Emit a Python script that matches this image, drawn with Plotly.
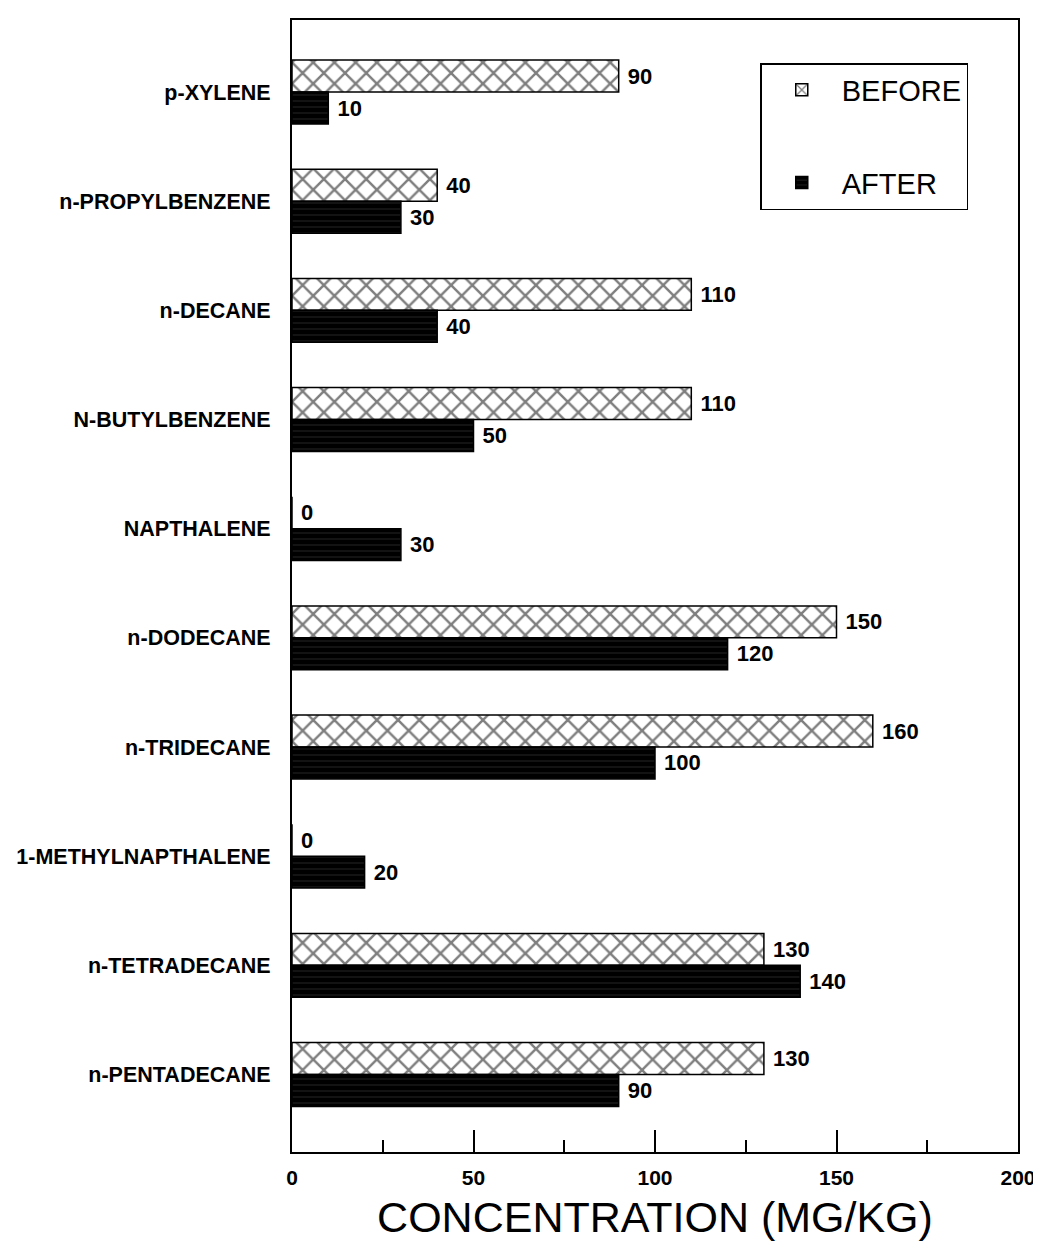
import plotly.graph_objects as go

compounds = [
    "p-XYLENE", "n-PROPYLBENZENE", "n-DECANE", "N-BUTYLBENZENE", "NAPTHALENE",
    "n-DODECANE", "n-TRIDECANE", "1-METHYLNAPTHALENE", "n-TETRADECANE", "n-PENTADECANE",
]
before = [90, 40, 110, 110, 0, 150, 160, 0, 130, 130]
after = [10, 30, 40, 50, 30, 120, 100, 20, 140, 90]
x_ticks = [0, 50, 100, 150, 200]

FONT = "Liberation Sans, Arial, sans-serif"

fig = go.Figure()
fig.add_trace(go.Bar(
    y=compounds, x=before, orientation="h", name="BEFORE", legendgroup="before",
    marker=dict(color="white", line=dict(color="black", width=1.5),
                pattern=dict(shape="x", fgcolor="black", size=15, solidity=0.3)),
    text=[f" {v}" for v in before], textposition="outside", cliponaxis=False,
    textfont=dict(family=FONT, size=22, color="black", weight="bold"),
))
fig.add_trace(go.Bar(
    y=compounds, x=after, orientation="h", name="AFTER", legendgroup="after",
    marker=dict(color="black", line=dict(color="black", width=1.5),
                pattern=dict(shape="-", fgcolor="#6a6a6a", bgcolor="black", size=6, solidity=0.12)),
    text=[f" {v}" for v in after], textposition="outside", cliponaxis=False,
    textfont=dict(family=FONT, size=22, color="black", weight="bold"),
))

fig.update_layout(
    width=1041, height=1245,
    margin=dict(l=284, r=31, t=12, b=101),
    paper_bgcolor="white", plot_bgcolor="white",
    barmode="group", bargap=0.415, bargroupgap=0,
    font=dict(family=FONT, color="black"),
    legend=dict(
        x=0.645, y=0.962, xanchor="left", yanchor="top",
        bordercolor="black", borderwidth=1.5, bgcolor="white",
        font=dict(size=29), tracegroupgap=52, itemwidth=70,
    ),
    xaxis=dict(
        range=[0, 200], tickvals=x_ticks, ticktext=[str(v) for v in x_ticks],
        ticks="inside", ticklen=22, tickwidth=1.5, tickcolor="black",
        minor=dict(dtick=25, ticks="inside", ticklen=12, tickwidth=1.5, tickcolor="black"),
        showgrid=False, zeroline=False,
        showline=True, linecolor="black", linewidth=2, mirror=True,
        tickfont=dict(size=21, weight="bold"), ticklabelstandoff=6,
        title=dict(text="CONCENTRATION (MG/KG)", font=dict(size=43), standoff=14),
        automargin=False,
    ),
    yaxis=dict(
        range=[9.71, -0.66], showgrid=False, zeroline=False,
        showline=True, linecolor="black", linewidth=2, mirror=True,
        ticks="", tickfont=dict(size=21.5, weight="bold"), ticklabelstandoff=15,
        automargin=False,
    ),
)

fig.write_html("out.html")
